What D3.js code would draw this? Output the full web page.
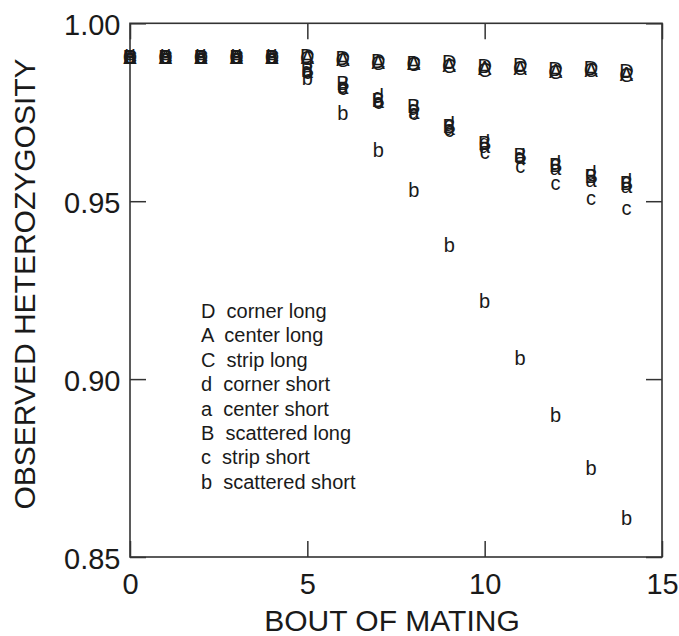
<!DOCTYPE html>
<html>
<head>
<meta charset="utf-8">
<script src="https://cdn.jsdelivr.net/npm/d3@7"></script>
<style>
  html, body { margin: 0; padding: 0; background: #fff; }
  svg { display: block; }
  text { font-family: "Liberation Sans", Arial, Helvetica, sans-serif; fill: #1a1a1a; }
</style>
</head>
<body>
<svg id="chart" width="679" height="636"></svg>
<script>
// ---- data ----
const bouts = [0, 1, 2, 3, 4, 5, 6, 7, 8, 9, 10, 11, 12, 13, 14];
const seriesD = [0.9905, 0.9905, 0.9905, 0.9905, 0.9905, 0.9908, 0.9902, 0.9894, 0.9889, 0.9891, 0.9881, 0.9884, 0.9872, 0.9875, 0.9866]; // corner long
const seriesA = [0.9905, 0.9905, 0.9905, 0.9905, 0.9905, 0.9905, 0.9899, 0.9892, 0.9888, 0.9882, 0.9874, 0.9876, 0.9866, 0.9870, 0.9858]; // center long
const seriesC = [0.9905, 0.9905, 0.9905, 0.9905, 0.9905, 0.9903, 0.9897, 0.9890, 0.9886, 0.9880, 0.9870, 0.9874, 0.9864, 0.9868, 0.9856]; // strip long
const seriesd = [0.9905, 0.9905, 0.9905, 0.9905, 0.9905, 0.9868, 0.9824, 0.9795, 0.9762, 0.9718, 0.9667, 0.9627, 0.9608, 0.9580, 0.9556]; // corner short
const seriesa = [0.9905, 0.9905, 0.9905, 0.9905, 0.9905, 0.9866, 0.9822, 0.9781, 0.9750, 0.9706, 0.9657, 0.9625, 0.9594, 0.9561, 0.9542]; // center short
const seriesB = [0.9905, 0.9905, 0.9905, 0.9905, 0.9905, 0.9870, 0.9833, 0.9786, 0.9767, 0.9712, 0.9663, 0.9631, 0.9603, 0.9571, 0.9552]; // scattered long
const seriesc = [0.9905, 0.9905, 0.9905, 0.9905, 0.9905, 0.9865, 0.9820, 0.9778, 0.9748, 0.9702, 0.9638, 0.9599, 0.9552, 0.9510, 0.9481]; // strip short
const seriesb = [0.9905, 0.9905, 0.9905, 0.9905, 0.9905, 0.9847, 0.9748, 0.9645, 0.9533, 0.9378, 0.9219, 0.9060, 0.8901, 0.8751, 0.8610]; // scattered short

const symbols = ["D", "A", "C", "d", "a", "B", "c", "b"];
const seriesNames = ["corner long", "center long", "strip long", "corner short", "center short", "scattered long", "strip short", "scattered short"];
const seriesValues = [seriesD, seriesA, seriesC, seriesd, seriesa, seriesB, seriesc, seriesb];

const xTicks = [0, 5, 10, 15];
const xTickLabels = ["0", "5", "10", "15"];
const yTicks = [0.85, 0.90, 0.95, 1.00];
const yTickLabels = ["0.85", "0.90", "0.95", "1.00"];
const xTitle = "BOUT OF MATING";
const yTitle = "OBSERVED HETEROZYGOSITY";

// ---- layout ----
const svg = d3.select("#chart");
const pLeft = 130, pRight = 662, pTop = 23.3, pBottom = 557;
const x = d3.scaleLinear().domain([0, 15]).range([pLeft, pRight]);
const y = d3.scaleLinear().domain([0.85, 1.0]).range([pBottom, pTop]);
const frameColor = "#333";
const tickLen = 16;

// frame
svg.append("rect")
  .attr("x", pLeft).attr("y", pTop)
  .attr("width", pRight - pLeft).attr("height", pBottom - pTop)
  .attr("fill", "none").attr("stroke", frameColor).attr("stroke-width", 1.6);

function styleAxis(g) {
  g.select(".domain").remove();
  g.selectAll(".tick line").attr("stroke", frameColor).attr("stroke-width", 1.5);
}

// bottom axis (ticks pointing inward)
const gx = svg.append("g").attr("transform", `translate(0,${pBottom})`)
  .call(d3.axisBottom(x).tickValues(xTicks).tickSize(-tickLen)
    .tickFormat((d, i) => xTickLabels[i]));
styleAxis(gx);
gx.selectAll(".tick text")
  .attr("y", 37).attr("dy", null)
  .style("font-size", "29px").attr("fill", "#1a1a1a")
  .style("font-family", "'Liberation Sans', Arial, sans-serif");

// top axis ticks
const gxt = svg.append("g").attr("transform", `translate(0,${pTop})`)
  .call(d3.axisTop(x).tickValues(xTicks).tickSize(-tickLen).tickFormat(""));
styleAxis(gxt);

// left axis
const gy = svg.append("g").attr("transform", `translate(${pLeft},0)`)
  .call(d3.axisLeft(y).tickValues(yTicks).tickSize(-tickLen)
    .tickFormat((d, i) => yTickLabels[i]));
styleAxis(gy);
gy.selectAll(".tick text")
  .attr("x", -9.5).attr("dy", null).attr("y", 11)
  .style("font-size", "29px").attr("fill", "#1a1a1a")
  .style("font-family", "'Liberation Sans', Arial, sans-serif");

// right axis ticks
const gyr = svg.append("g").attr("transform", `translate(${pRight},0)`)
  .call(d3.axisRight(y).tickValues(yTicks).tickSize(-tickLen).tickFormat(""));
styleAxis(gyr);

// axis titles
svg.append("text")
  .attr("x", 392).attr("y", 631)
  .attr("text-anchor", "middle")
  .style("font-size", "30px")
  .text(xTitle);

svg.append("text")
  .attr("transform", "translate(35,284) rotate(-90)")
  .attr("text-anchor", "middle")
  .style("font-size", "30px")
  .text(yTitle);

// data symbols (letters)
const marks = svg.append("g");
symbols.forEach((sym, si) => {
  marks.selectAll(null)
    .data(bouts.map((b, i) => ({ b, v: seriesValues[si][i] })))
    .enter().append("text")
    .attr("x", d => x(d.b))
    .attr("y", d => y(d.v))
    .attr("dy", "0.36em")
    .attr("text-anchor", "middle")
    .style("font-size", "20px")
    .text(sym);
});

// legend
const legend = svg.append("g");
symbols.forEach((sym, i) => {
  legend.append("text")
    .attr("x", 201)
    .attr("y", 318 + i * 24.4)
    .style("font-size", "20px")
    .style("white-space", "pre")
    .attr("xml:space", "preserve")
    .text(sym + "  " + seriesNames[i]);
});
</script>
</body>
</html>
